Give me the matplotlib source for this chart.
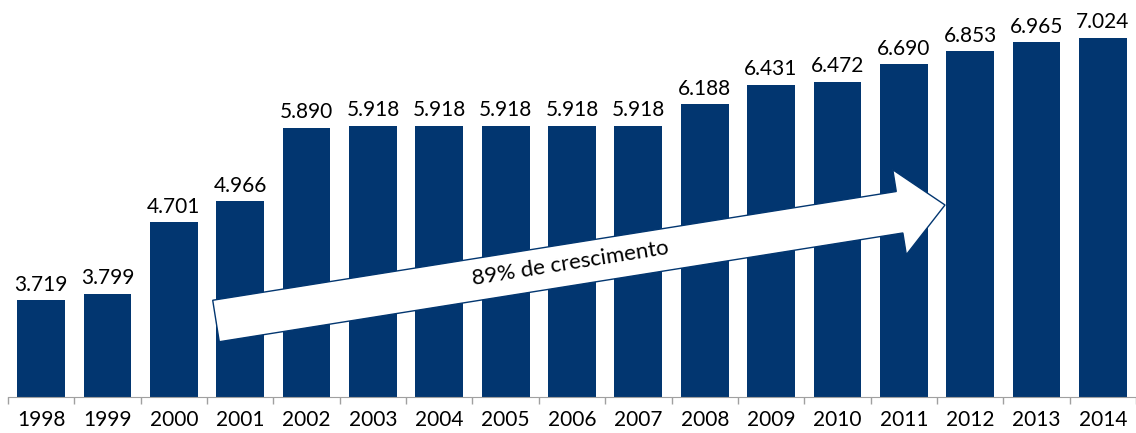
import numpy as np
import matplotlib.pyplot as plt
import matplotlib.patches as mpatches
from matplotlib.transforms import IdentityTransform

plt.rcParams['font.family'] = ['Lato', 'DejaVu Sans']

anos = ['1998', '1999', '2000', '2001', '2002', '2003', '2004', '2005', '2006',
        '2007', '2008', '2009', '2010', '2011', '2012', '2013', '2014']
valores = [3.719, 3.799, 4.701, 4.966, 5.890, 5.918, 5.918, 5.918, 5.918,
           5.918, 6.188, 6.431, 6.472, 6.690, 6.853, 6.965, 7.024]
rotulos = ['3.719', '3.799', '4.701', '4.966', '5.890', '5.918', '5.918', '5.918', '5.918',
           '5.918', '6.188', '6.431', '6.472', '6.690', '6.853', '6.965', '7.024']

azul = '#023670'

fig = plt.figure(figsize=(11.36, 4.33), dpi=100)
ax = fig.add_axes([8/1136, 36/433, 1128/1136, 397/433])

x = np.arange(len(anos))
ax.bar(x, valores, width=0.72, color=azul, bottom=0)
for xi, v, r in zip(x, valores, rotulos):
    ax.annotate(r, (xi, v), xytext=(0, 4), textcoords='offset points',
                ha='center', va='bottom', fontsize=15, color='black')

ax.set_xlim(-0.5, len(anos) - 0.5)
ax.set_ylim(2.5, 7.5)
ax.set_xticks(x)
ax.set_xticklabels(anos, fontsize=15)
ax.set_xticks(np.arange(len(anos) + 1) - 0.5, minor=True)
ax.tick_params(axis='x', which='major', length=0, pad=9)
ax.tick_params(axis='x', which='minor', length=5, color='#a0a0a0', width=1)
ax.set_yticks([])
for s in ['left', 'right', 'top']:
    ax.spines[s].set_visible(False)
ax.spines['bottom'].set_color('#a0a0a0')

# seta de crescimento (coordenadas em pixels da figura)
H = 433
x0, y0 = 216, H - 321
x1, y1 = 945, H - 205
seta = mpatches.FancyArrow(x0, y0, x1 - x0, y1 - y0, width=42, head_width=86,
                           head_length=46, length_includes_head=True,
                           transform=IdentityTransform(), facecolor='white',
                           edgecolor=azul, linewidth=1, zorder=5)
fig.patches.append(seta)
ang = np.degrees(np.arctan2(y1 - y0, x1 - x0))
fig.text(570 / 1136, (H - 263) / H, '89% de crescimento', rotation=ang,
         rotation_mode='anchor', ha='center', va='center', fontsize=16, zorder=6)

fig.savefig('out.png', dpi=100)
